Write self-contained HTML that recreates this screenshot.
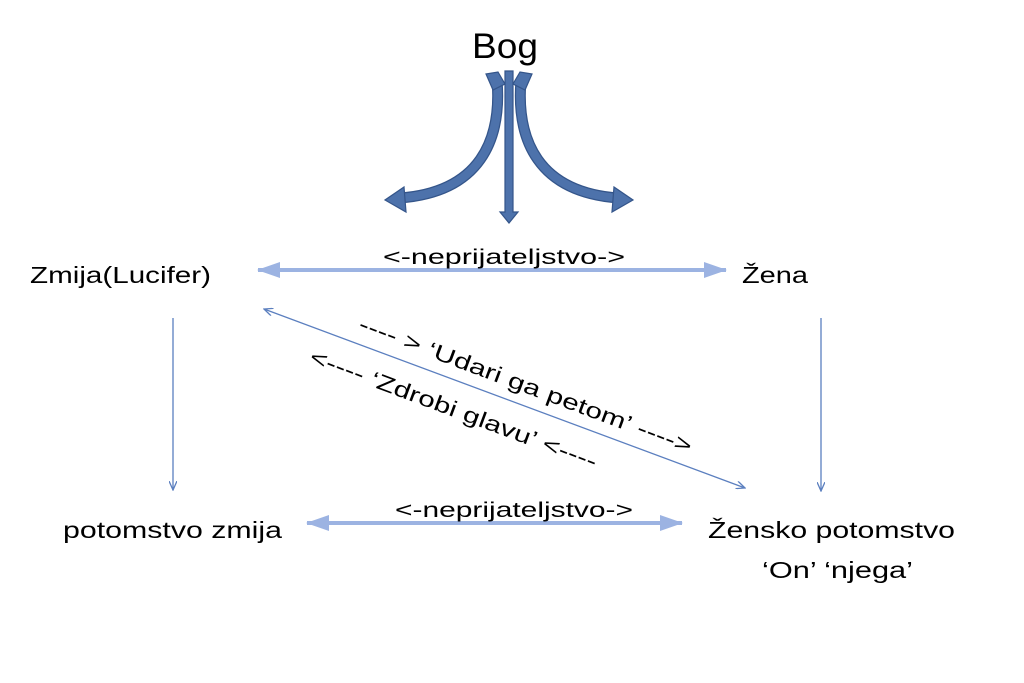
<!DOCTYPE html>
<html><head><meta charset="utf-8"><style>
html,body{margin:0;padding:0;background:#fff}
svg{display:block}
text{font-family:"Liberation Sans",sans-serif;fill:#000}
</style></head><body>
<svg width="1024" height="683" viewBox="0 0 1024 683" xmlns="http://www.w3.org/2000/svg">
<defs>
<marker id="thin" markerWidth="10" markerHeight="8" refX="9" refY="4" orient="auto-start-reverse" markerUnits="userSpaceOnUse">
<path d="M0,0 L9,4 L0,8" fill="none" stroke="#5b7fbf" stroke-width="1.3"/>
</marker>
<marker id="fat" markerWidth="24" markerHeight="16" refX="22" refY="8" orient="auto-start-reverse" markerUnits="userSpaceOnUse">
<path d="M0,0 L23,8 L0,16 Z" fill="#9cb3e2"/>
</marker>
</defs>

<text x="505" y="58" font-size="35" text-anchor="middle" textLength="66" lengthAdjust="spacingAndGlyphs">Bog</text>

<!-- curved arrows -->
<g fill="none" stroke="#34558a" stroke-linecap="butt">
<path d="M497,80 C502,140 480,192 400,198" stroke-width="11"/>
<path d="M521,80 C516,140 538,192 618,198" stroke-width="11"/>
</g>
<g fill="none" stroke="#4d72ab" stroke-linecap="butt">
<path d="M497,80 C502,140 480,192 400,198" stroke-width="8.5"/>
<path d="M521,80 C516,140 538,192 618,198" stroke-width="8.5"/>
</g>
<g fill="#4d72ab" stroke="#34558a" stroke-width="1.2">
<path d="M486,74 L498,72 L505,84 L493,90 Z"/>
<path d="M532,74 L520,72 L513,84 L525,90 Z"/>
<path d="M404,187 L385,200 L406,212 Z"/>
<path d="M614,187 L633,200 L612,212 Z"/>
<path d="M505,71 L513,71 L513,212 L518,212 L509,223 L500,212 L505,212 Z"/>
</g>

<line x1="258" y1="270" x2="726" y2="270" stroke="#9cb3e2" stroke-width="4" marker-start="url(#fat)" marker-end="url(#fat)"/>
<line x1="307" y1="523" x2="682" y2="523" stroke="#9cb3e2" stroke-width="4" marker-start="url(#fat)" marker-end="url(#fat)"/>
<text x="504" y="264" font-size="21" text-anchor="middle" textLength="242" lengthAdjust="spacingAndGlyphs">&lt;-neprijateljstvo-&gt;</text>
<text x="514" y="517" font-size="21" text-anchor="middle" textLength="238" lengthAdjust="spacingAndGlyphs">&lt;-neprijateljstvo-&gt;</text>

<line x1="173" y1="318" x2="173" y2="490" stroke="#5b7fbf" stroke-width="1.3" marker-end="url(#thin)"/>
<line x1="821" y1="318" x2="821" y2="491" stroke="#5b7fbf" stroke-width="1.3" marker-end="url(#thin)"/>

<line x1="264" y1="309" x2="745" y2="488" stroke="#5b7fbf" stroke-width="1.3" marker-start="url(#thin)" marker-end="url(#thin)"/>
<g transform="translate(523,392) rotate(20.5)">
<text x="0" y="0" font-size="22" text-anchor="middle" textLength="354" lengthAdjust="spacingAndGlyphs">---- &gt; ‘Udari ga petom’ ----&gt;</text>
</g>
<g transform="translate(451,416) rotate(20.5)">
<text x="0" y="0" font-size="22" text-anchor="middle" textLength="305" lengthAdjust="spacingAndGlyphs">&lt;---- ‘Zdrobi glavu’ &lt;----</text>
</g>

<text x="30" y="283" font-size="23" textLength="181" lengthAdjust="spacingAndGlyphs">Zmija(Lucifer)</text>
<text x="742" y="283" font-size="23" textLength="66" lengthAdjust="spacingAndGlyphs">Žena</text>
<text x="63" y="538" font-size="23" textLength="219" lengthAdjust="spacingAndGlyphs">potomstvo zmija</text>
<text x="708" y="538" font-size="23" textLength="247" lengthAdjust="spacingAndGlyphs">Žensko potomstvo</text>
<text x="762" y="578" font-size="23" textLength="151" lengthAdjust="spacingAndGlyphs">‘On’ ‘njega’</text>
</svg>
</body></html>
